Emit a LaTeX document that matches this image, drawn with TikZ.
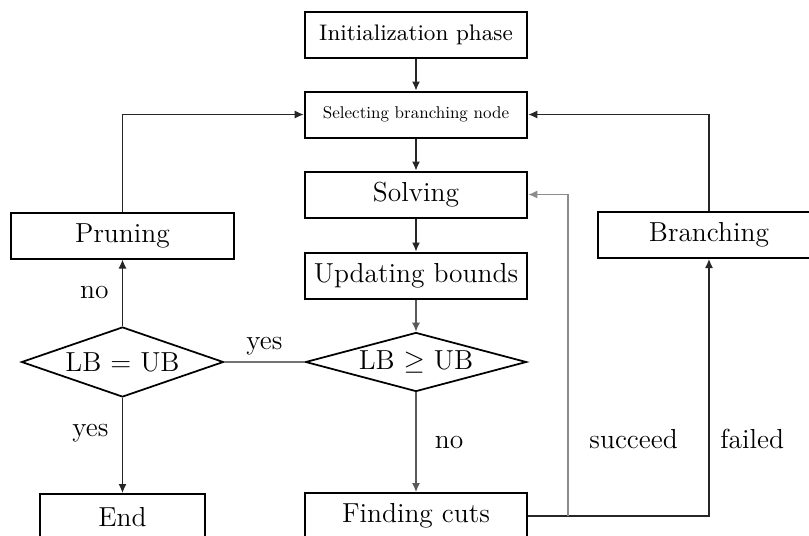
\documentclass[tikz,border=0pt]{standalone}
\usepackage{tikz}
\usetikzlibrary{arrows.meta,
shapes.geometric
}
\tikzset{>={Latex[length=3.6pt,width=3.2pt]}}
\tikzset{
  box/.style={draw, line width=0.8pt, minimum width=89pt, minimum height=18.4pt, inner sep=0pt, font=\fontsize{11}{13}\selectfont},
  decision/.style={draw, diamond, line width=0.7pt, inner sep=0pt, font=\fontsize{11}{13}\selectfont},
  lbl/.style={font=\fontsize{11}{13}\selectfont, text=black},
  link/.style={line width=0.5pt, black!85}
}

\begin{document}
\begin{tikzpicture}[x=0.4pt, y=-0.4pt]
  \useasboundingbox (0,0) rectangle (809,535);

  \node[box, font=\fontsize{9}{11}\selectfont] (init) at (416,35) {Initialization phase};
  \node[box] (select) at (416,114.5) {\scalebox{0.68}{\fontsize{10}{12}\selectfont Selecting branching node}};
  \node[box] (solve) at (416,194.5) {Solving};
  \node[box] (update) at (416,275.5) {Updating bounds};
  \node[decision, aspect=3.75, minimum width=88.4pt, minimum height=23.6pt] (geq) at (416,362) {LB $\geq$ UB};
  \node[box] (cuts) at (416,516) {Finding cuts};

  \node[box] (prune) at (122.5,235.5) {Pruning};
  \node[decision, aspect=2.9, minimum width=80.8pt, minimum height=28pt] (eq) at (122.5,362) {LB = UB};
  \node[box, minimum width=66pt] (stop) at (122.5,517) {End};

  \node[box] (branch) at (709,235) {Branching};
  \coordinate (turn) at (568,516);

  \draw[link, ->] (init) to (select);
  \draw[link, ->] (select) to (solve);
  \draw[link, ->] (solve) to (update);
  \draw[link, black!65, ->] (update) to (geq);
  \draw[link, black!65, ->] (geq.south) to node[lbl, midway, right, xshift=4pt] {no} (cuts.north);
  \draw[link, black!55] (geq.west) to node[lbl, midway, above, yshift=-1pt] {yes} (eq.east);
  \draw[link, ->] (eq.north) to node[lbl, midway, left, xshift=-2pt] {no} (prune.south);
  \draw[link, ->] (eq.south) to node[lbl, pos=0.37, left, xshift=-2pt] {yes} (stop.north);
  \draw[link, ->] (prune.north) |- (select.west);
  \draw[link, ->] (branch.north) |- (select.east);
  \draw[link, ->] (cuts.east) -| node[lbl, pos=0.65, right, xshift=1pt] {failed} (branch.south);
  \draw[link, black!45, ->] (turn) |- node[lbl, pos=0.12, right, xshift=5pt] {succeed} (solve.east);
\end{tikzpicture}
\end{document}
